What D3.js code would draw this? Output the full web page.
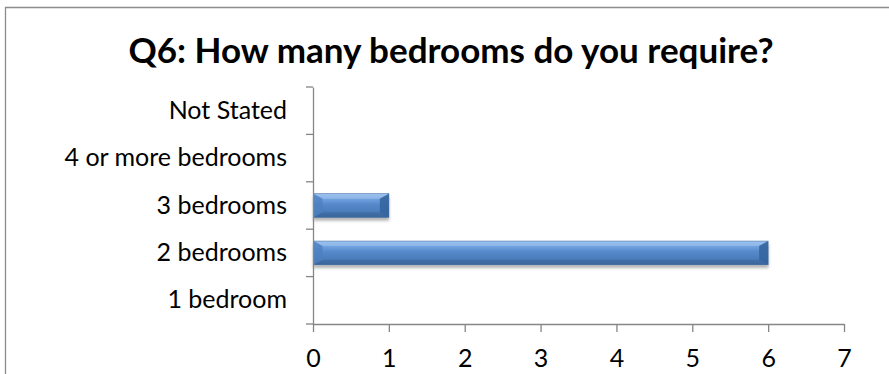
<!DOCTYPE html>
<html>
<head>
<meta charset="utf-8">
<script src="https://cdn.jsdelivr.net/npm/d3@7"></script>
<style>
  html, body { margin: 0; padding: 0; background: #fff; }
  svg { display: block; }
  text { font-family: Lato, "Open Sans", "Liberation Sans", sans-serif; }
</style>
</head>
<body>
<svg id="chart" width="889" height="374"></svg>
<script>
// Survey answers: number of respondents per bedroom requirement
const chartTitle = "Q6: How many bedrooms do you require?";
const categories = ["Not Stated", "4 or more bedrooms", "3 bedrooms", "2 bedrooms", "1 bedroom"];
const counts = [0, 0, 1, 6, 0];
const xTicks = [0, 1, 2, 3, 4, 5, 6, 7];

const W = 889, H = 374;
const plot = { left: 313, right: 844, top: 87, bottom: 324 };
const axisColor = "#868686";

const svg = d3.select("#chart");

svg.append("rect").attr("width", W).attr("height", H).attr("fill", "#fff");

// Chart frame (left and top edges visible)
svg.append("path")
  .attr("d", `M5.5,${H} V7.5 H${W}`)
  .attr("fill", "none")
  .attr("stroke", "#8c8c8c")
  .attr("stroke-width", 1.3);

svg.append("text")
  .attr("x", 451)
  .attr("y", 63)
  .attr("text-anchor", "middle")
  .attr("font-size", 35)
  .attr("font-weight", 700)
  .attr("fill", "#000")
  .text(chartTitle);

const x = d3.scaleLinear().domain([0, 7]).range([plot.left, plot.right]);
const y = d3.scaleBand().domain(categories).range([plot.top, plot.bottom])
  .paddingInner(0.5).paddingOuter(0.25);

// Gradients for the bevelled bars
const defs = svg.append("defs");
const face = defs.append("linearGradient").attr("id", "barFace")
  .attr("x1", 0).attr("y1", 0).attr("x2", 0).attr("y2", 1);
[[0, "#8db8ec"], [0.22, "#72a2de"], [0.45, "#5689ca"], [0.8, "#4a7bb9"], [1, "#3e6aa3"]]
  .forEach(([o, c]) => face.append("stop").attr("offset", o).attr("stop-color", c));

const shadow = defs.append("filter").attr("id", "barShadow")
  .attr("x", "-5%").attr("y", "-30%").attr("width", "110%").attr("height", "170%");
shadow.append("feGaussianBlur").attr("in", "SourceAlpha").attr("stdDeviation", 1.6);
shadow.append("feOffset").attr("dx", 0).attr("dy", 2.5).attr("result", "ob");
shadow.append("feComponentTransfer").append("feFuncA").attr("type", "linear").attr("slope", 0.3);
const merge = shadow.append("feMerge");
merge.append("feMergeNode");
merge.append("feMergeNode").attr("in", "SourceGraphic");

const rows = categories.map((c, i) => ({ cat: c, v: counts[i] })).filter(d => d.v > 0);

const bars = svg.append("g").selectAll("g").data(rows).join("g")
  .attr("filter", "url(#barShadow)");

bars.each(function (d) {
  const g = d3.select(this);
  const x0 = x(0) + 0.5, x1 = x(d.v);
  const y0 = y(d.cat), h = y.bandwidth(), y1 = y0 + h;
  const bx = 9, by = 5;
  g.append("rect").attr("x", x0).attr("y", y0).attr("width", x1 - x0).attr("height", h)
    .attr("fill", "url(#barFace)");
  // top bevel
  g.append("path").attr("d", `M${x0},${y0} L${x1},${y0} L${x1 - bx},${y0 + by} L${x0 + bx},${y0 + by} Z`)
    .attr("fill", "#a6c9f2").attr("opacity", 0.5);
  // bottom bevel
  g.append("path").attr("d", `M${x0},${y1} L${x1},${y1} L${x1 - bx},${y1 - by} L${x0 + bx},${y1 - by} Z`)
    .attr("fill", "#35608f").attr("opacity", 0.4);
  // left bevel
  g.append("path").attr("d", `M${x0},${y0} L${x0 + bx},${y0 + by} L${x0 + bx},${y1 - by} L${x0},${y1} Z`)
    .attr("fill", "#4b7fc0").attr("opacity", 0.75);
  // right bevel
  g.append("path").attr("d", `M${x1},${y0} L${x1 - bx},${y0 + by} L${x1 - bx},${y1 - by} L${x1},${y1} Z`)
    .attr("fill", "#34659e").attr("opacity", 0.9);
  g.append("rect").attr("x", x0).attr("y", y0).attr("width", x1 - x0).attr("height", h)
    .attr("fill", "none").attr("stroke", "#3b6598").attr("stroke-width", 0.7).attr("opacity", 0.7);
});

// Category axis: labels centred on bands, ticks on band boundaries
const yAxis = svg.append("g").attr("transform", `translate(${plot.left},0)`)
  .call(d3.axisLeft(y).tickSize(0).tickPadding(26));
yAxis.select(".domain").attr("stroke", axisColor).attr("stroke-width", 1.3);
yAxis.selectAll("text").attr("font-size", 25).attr("fill", "#000")
  .style("font-family", "Lato, 'Open Sans', sans-serif");
const boundaries = d3.range(categories.length + 1).map(i => plot.top + i * y.step());
yAxis.selectAll(".bnd").data(boundaries).join("line").attr("class", "bnd")
  .attr("x1", -7).attr("x2", 0).attr("y1", d => d).attr("y2", d => d)
  .attr("stroke", axisColor).attr("stroke-width", 1.3);

// Value axis
const xAxis = svg.append("g").attr("transform", `translate(0,${plot.bottom})`)
  .call(d3.axisBottom(x).tickValues(xTicks).tickFormat(d3.format("d"))
    .tickSize(8).tickPadding(17).tickSizeOuter(0));
xAxis.select(".domain").attr("stroke", axisColor).attr("stroke-width", 1.3);
xAxis.selectAll(".tick line").attr("stroke", axisColor).attr("stroke-width", 1.3);
xAxis.selectAll("text").attr("font-size", 25).attr("fill", "#000")
  .style("font-family", "Lato, 'Open Sans', sans-serif");
</script>
</body>
</html>
